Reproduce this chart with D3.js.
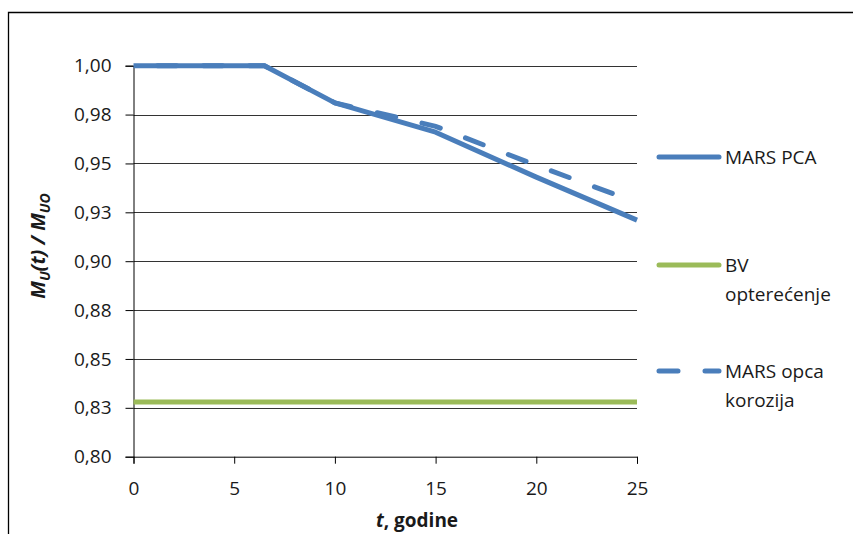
<!DOCTYPE html>
<html>
<head>
<meta charset="utf-8">
<script src="https://cdn.jsdelivr.net/npm/d3@7"></script>
<style>
  html, body { margin: 0; padding: 0; background: #fff; }
  svg { display: block; font-family: "Open Sans", sans-serif; }
</style>
</head>
<body>
<svg id="chart" width="853" height="534"></svg>
<script>
// ---- data ----
const tPCA = [0, 6.5, 10, 15, 20, 25];
const mPCA = [1.0, 1.0, 0.981, 0.966, 0.943, 0.921];
const tOpca = [0, 6.5, 10, 15, 20, 25];
const mOpca = [1.0, 1.0, 0.981, 0.969, 0.949, 0.930];
const tBV = [0, 25];
const mBV = [0.828, 0.828];
const xTicks = [0, 5, 10, 15, 20, 25];
const yTicks = [0.80, 0.825, 0.85, 0.875, 0.90, 0.925, 0.95, 0.975, 1.00];
const yTickLabels = ["0,80", "0,83", "0,85", "0,88", "0,90", "0,93", "0,95", "0,98", "1,00"];
const seriesNames = ["MARS PCA", "BV opterećenje", "MARS opca korozija"];

const BLUE = "#4a7ebb", GREEN = "#9bbb59";

const svg = d3.select("#chart");
const x = d3.scaleLinear().domain([0, 25]).range([133.5, 637]);
const y = d3.scaleLinear().domain([0.8, 1.0]).range([456.7, 65.7]);

// outer frame (top and left edges visible)
svg.append("path").attr("d", "M8.5,534V12.5H853").attr("fill", "none")
  .attr("stroke", "#000").attr("stroke-width", 1.3);

// gridlines
svg.append("g").selectAll("line").data(yTicks.slice(1)).join("line")
  .attr("x1", x(0)).attr("x2", x(25))
  .attr("y1", d => Math.round(y(d)) + 0.5).attr("y2", d => Math.round(y(d)) + 0.5)
  .attr("stroke", "#333").attr("stroke-width", 1);

// y axis
const yAxis = d3.axisLeft(y).tickValues(yTicks)
  .tickFormat((d, i) => yTickLabels[i]).tickSize(8).tickPadding(14);
const gy = svg.append("g").attr("transform", `translate(${x(0)},0)`).call(yAxis);
gy.select(".domain").attr("stroke", "#000");
gy.selectAll(".tick line").attr("stroke", "#000");
gy.selectAll("text").attr("font-size", 19).attr("fill", "#1a1a1a")
  .attr("font-family", "'Open Sans', sans-serif");

// x axis
const xAxis = d3.axisBottom(x).tickValues(xTicks).tickSize(7).tickPadding(18);
const gx = svg.append("g").attr("transform", `translate(0,${y(0.8)})`).call(xAxis);
gx.select(".domain").attr("stroke", "#000");
gx.selectAll(".tick line").attr("stroke", "#000");
gx.selectAll("text").attr("font-size", 19).attr("fill", "#1a1a1a")
  .attr("font-family", "'Open Sans', sans-serif");

// lines
const line = d3.line().x(d => x(d[0])).y(d => y(d[1]));
const zip = (a, b) => a.map((v, i) => [v, b[i]]);

svg.append("path").datum(zip(tBV, mBV)).attr("d", line)
  .attr("fill", "none").attr("stroke", GREEN).attr("stroke-width", 5);
svg.append("path").datum(zip(tPCA, mPCA)).attr("d", line)
  .attr("fill", "none").attr("stroke", BLUE).attr("stroke-width", 5)
  .attr("stroke-linejoin", "round");
svg.append("path").datum(zip(tOpca, mOpca)).attr("d", line)
  .attr("fill", "none").attr("stroke", BLUE).attr("stroke-width", 5)
  .attr("stroke-linecap", "round").attr("stroke-dasharray", "19 27")
  .attr("stroke-dashoffset", 22);

// legend
const legend = [
  { name: ["MARS PCA"], color: BLUE, dash: null, y: 157 },
  { name: ["BV", "opterećenje"], color: GREEN, dash: null, y: 265 },
  { name: ["MARS opca", "korozija"], color: BLUE, dash: "19 27", y: 371 }
];
const lg = svg.append("g");
legend.forEach(l => {
  lg.append("line").attr("x1", 659).attr("x2", 719).attr("y1", l.y).attr("y2", l.y)
    .attr("stroke", l.color).attr("stroke-width", 5).attr("stroke-linecap", "round")
    .attr("stroke-dasharray", l.dash);
  const t = lg.append("text").attr("x", 725).attr("y", l.y + 7)
    .attr("font-size", 19).attr("fill", "#1a1a1a");
  l.name.forEach((s, i) => t.append("tspan").attr("x", 725).attr("dy", i ? 29 : 0).text(s));
});

// x title
const xt = svg.append("text").attr("x", 417).attr("y", 527).attr("text-anchor", "middle")
  .attr("font-size", 19).attr("font-weight", "bold").attr("fill", "#1a1a1a");
xt.append("tspan").attr("font-style", "italic").text("t");
xt.append("tspan").text(", godine");

// y title
const yt = svg.append("text").attr("transform", "translate(45,246) rotate(-90)")
  .attr("text-anchor", "middle").attr("font-size", 20).attr("font-weight", "bold")
  .attr("font-style", "italic").attr("fill", "#1a1a1a");
yt.append("tspan").text("M");
yt.append("tspan").attr("font-size", 14).attr("dy", 5).text("U");
yt.append("tspan").attr("dy", -5).text("(t) / M");
yt.append("tspan").attr("font-size", 14).attr("dy", 5).text("UO");
</script>
</body>
</html>
